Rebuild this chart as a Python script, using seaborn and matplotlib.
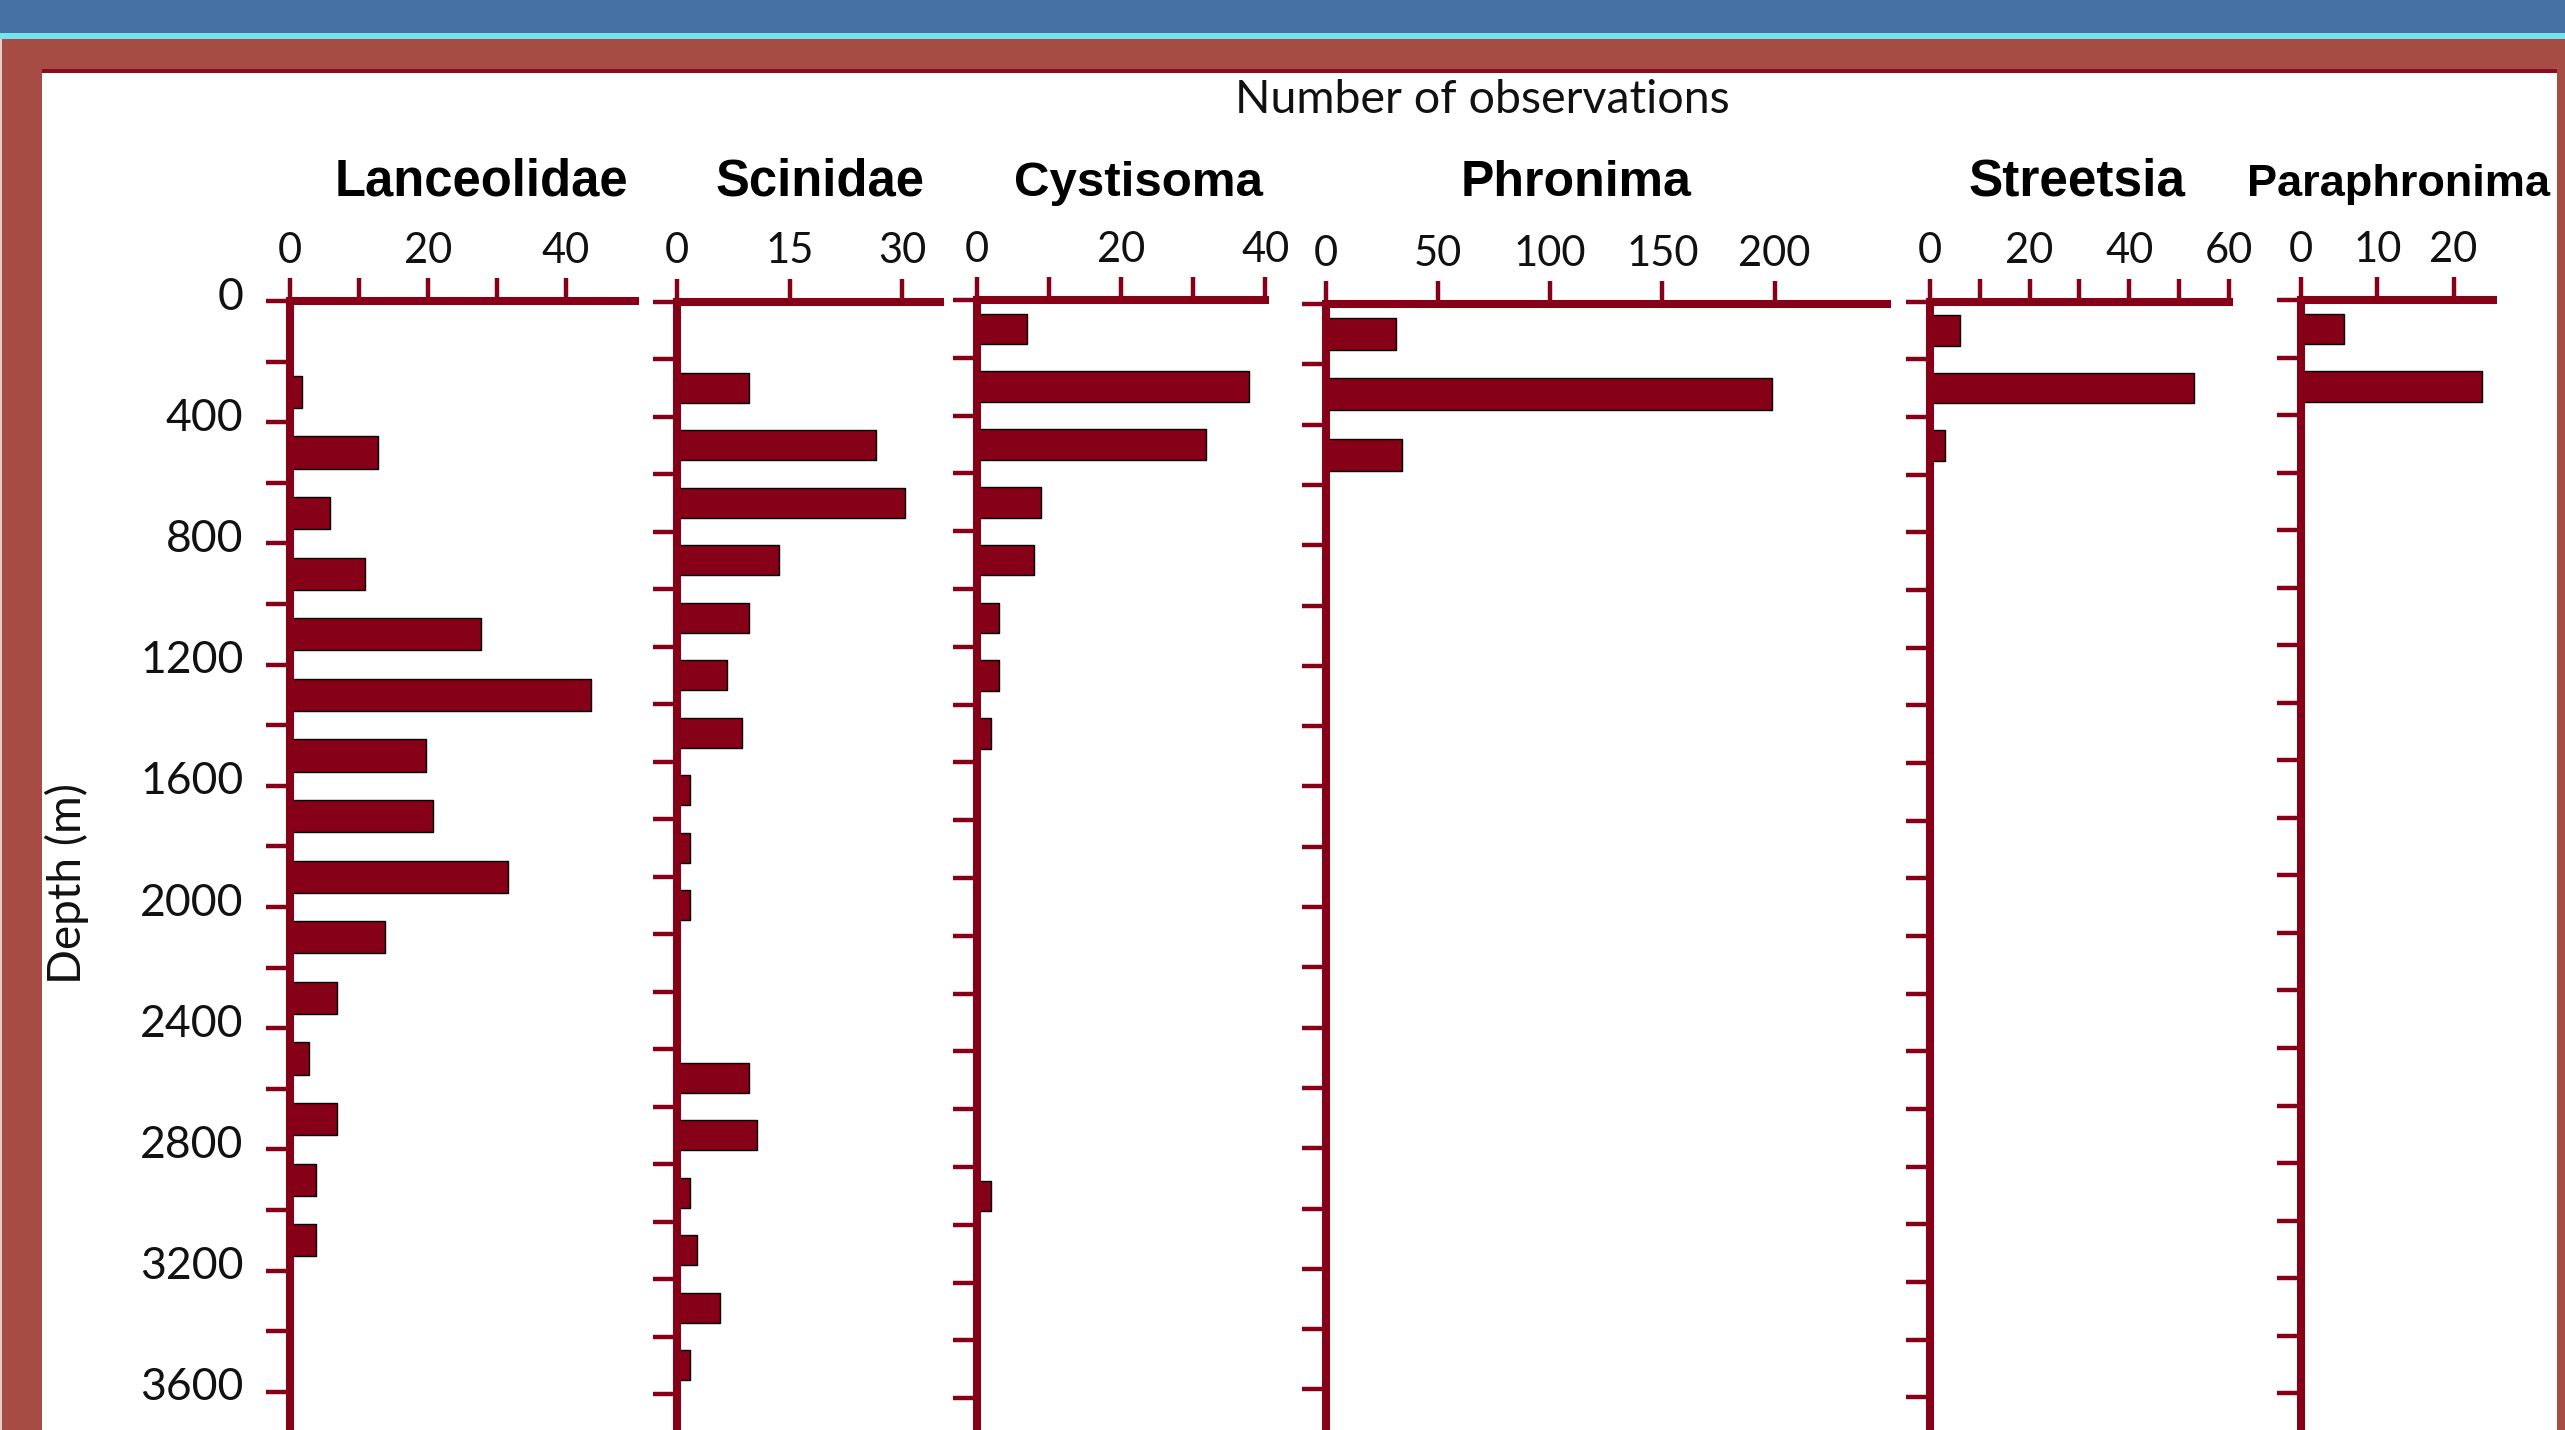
import matplotlib
matplotlib.use("Agg")
import numpy as np
import pandas as pd
import matplotlib.pyplot as plt
import matplotlib.transforms as mtransforms
from matplotlib.patches import Rectangle
import seaborn as sns

sns.set_theme(style="ticks")
plt.rcParams['font.family'] = ['Lato', 'DejaVu Sans']

# %% data: number of observations per 200 m depth bin (bars sit at bin centres)
lanceolidae_depth = [300, 500, 700, 900, 1100, 1300, 1500, 1700, 1900, 2100, 2300, 2500, 2700, 2900, 3100]
lanceolidae_obs = [1.8, 12.8, 5.8, 10.8, 27.7, 43.6, 19.7, 20.7, 31.6, 13.7, 6.8, 2.8, 6.8, 3.8, 3.8]

scinidae_depth = [300, 500, 700, 900, 1100, 1300, 1500, 1700, 1900, 2100, 2700, 2900, 3100, 3300, 3500, 3700]
scinidae_obs = [9.6, 26.5, 30.4, 13.6, 9.6, 6.7, 8.7, 1.7, 1.7, 1.7, 9.6, 10.7, 1.7, 2.7, 5.7, 1.7]

cystisoma_depth = [100, 300, 500, 700, 900, 1100, 1300, 1500, 3100]
cystisoma_obs = [6.9, 37.7, 31.7, 8.9, 7.9, 3.0, 3.0, 2.0, 1.9]

phronima_depth = [100, 300, 500]
phronima_obs = [31, 199, 34]

streetsia_depth = [100, 300, 500]
streetsia_obs = [6, 53, 3]

paraphronima_depth = [100, 300]
paraphronima_obs = [5.6, 23.7]

# tick labels
lanceolidae_xticks = [0, 10, 20, 30, 40]
lanceolidae_xlabels = ['0', '', '20', '', '40']
scinidae_xticks = [0, 15, 30]
scinidae_xlabels = ['0', '15', '30']
cystisoma_xticks = [0, 10, 20, 30, 40]
cystisoma_xlabels = ['0', '', '20', '', '40']
phronima_xticks = [0, 50, 100, 150, 200]
phronima_xlabels = ['0', '50', '100', '150', '200']
streetsia_xticks = [0, 10, 20, 30, 40, 50, 60]
streetsia_xlabels = ['0', '', '20', '', '40', '', '60']
paraphronima_xticks = [0, 10, 20]
paraphronima_xlabels = ['0', '10', '20']
depth_labels = [0, 400, 800, 1200, 1600, 2000, 2400, 2800, 3200, 3600]

# %% layout (pixels of the 2565x1430 canvas)
W, H = 2565, 1430
BAR = '#860018'
panels = [
    dict(name='Lanceolidae', depth=lanceolidae_depth, obs=lanceolidae_obs, xticks=lanceolidae_xticks,
         xlabels=lanceolidae_xlabels, x0=290, ppu=6.9, xmax=50, top=301, ppm=0.303, tx=481, ts=36.5),
    dict(name='Scinidae', depth=scinidae_depth, obs=scinidae_obs, xticks=scinidae_xticks,
         xlabels=scinidae_xlabels, x0=677, ppu=7.5, xmax=35, top=301.5, ppm=0.2875, tx=820, ts=36.5),
    dict(name='Cystisoma', depth=cystisoma_depth, obs=cystisoma_obs, xticks=cystisoma_xticks,
         xlabels=cystisoma_xlabels, x0=977, ppu=7.21, xmax=40, top=300, ppm=0.289, tx=1139, ts=35.5),
    dict(name='Phronima', depth=phronima_depth, obs=phronima_obs, xticks=phronima_xticks,
         xlabels=phronima_xlabels, x0=1326, ppu=2.2425, xmax=250, top=304, ppm=0.3015, tx=1576, ts=36),
    dict(name='Streetsia', depth=streetsia_depth, obs=streetsia_obs, xticks=streetsia_xticks,
         xlabels=streetsia_xlabels, x0=1930, ppu=4.98, xmax=60, top=301.5, ppm=0.2884, tx=2077, ts=37),
    dict(name='Paraphronima', depth=paraphronima_depth, obs=paraphronima_obs, xticks=paraphronima_xticks,
         xlabels=paraphronima_xlabels, x0=2301, ppu=7.63, xmax=25.2, top=300, ppm=0.2877, tx=2398, ts=32.5),
]

fig = plt.figure(figsize=(W / 100, H / 100), dpi=100)
fig.patch.set_facecolor('#A64C45')


def px_rect(x, y, w, h, color):
    # rectangle given in pixels from the top-left corner
    fig.patches.append(Rectangle((x / W, 1 - (y + h) / H), w / W, h / H, transform=fig.transFigure,
                                 facecolor=color, edgecolor='none', zorder=-10))


# slide frame
px_rect(0, 0, W, 34, '#4672A3')
px_rect(0, 33, W, 6, '#74E3EE')
px_rect(0, 39, 2, H, '#E9CFCB')
px_rect(42, 69, 2515, 5, '#8B0A1E')
px_rect(42, 73, 2515, H, 'white')

shift_up = mtransforms.ScaledTranslation(0, 8 / 100, fig.dpi_scale_trans)

for i, p in enumerate(panels):
    ax = fig.add_axes([p['x0'] / W, 0, p['ppu'] * p['xmax'] / W, (H - p['top']) / H])
    ax.patch.set_visible(False)
    df = pd.DataFrame({'depth': p['depth'], 'obs': p['obs']})
    sns.barplot(data=df, x='obs', y='depth', orient='y', native_scale=True, width=0.53,
                color=BAR, saturation=1, edgecolor='black', linewidth=1.0, errorbar=None, ax=ax)
    ymax = (H - p['top']) / p['ppm']
    ax.set_xlim(0, p['xmax'])
    ax.set_ylim(ymax, 0)
    ax.set_xlabel('')
    ax.set_ylabel('')

    for s in ['right', 'bottom']:
        ax.spines[s].set_visible(False)
    for s in ['top', 'left']:
        ax.spines[s].set_color(BAR)
        ax.spines[s].set_linewidth(5.8)
        ax.spines[s].set_capstyle('projecting')

    ax.set_xticks(p['xticks'])
    ax.set_xticklabels(p['xlabels'])
    ax.tick_params(axis='x', top=True, bottom=False, labeltop=True, labelbottom=False,
                   direction='out', length=16.5, width=3.2, color=BAR, pad=6,
                   labelsize=30, labelcolor='#111111')

    yt = np.arange(0, ymax, 200)
    ax.set_yticks(yt)
    ax.tick_params(axis='y', left=True, direction='out', length=17.5, width=3.2, color=BAR,
                   pad=16, labelsize=32, labelcolor='#111111')
    if i == 0:
        ax.set_yticklabels([str(int(v)) if v in depth_labels else '' for v in yt])
        # depth labels sit a little above their ticks in the original
        for tick in ax.yaxis.get_major_ticks():
            tick.label1.set_transform(tick.label1.get_transform() + shift_up)
    else:
        ax.set_yticklabels([])

    fig.text(p['tx'] / W, 1 - 196 / H, p['name'], ha='center', va='baseline', fontsize=p['ts'],
             fontweight='bold', family=['Liberation Sans', 'DejaVu Sans'], color='black')

fig.text(1482 / W, 1 - 113 / H, 'Number of observations', ha='center', va='baseline',
         fontsize=33.5, color='#111111')
fig.text(67 / W, 1 - 884 / H, 'Depth (m)', ha='center', va='center', rotation=90,
         fontsize=33, color='#111111')

fig.savefig('out.png', dpi=100, facecolor=fig.get_facecolor())
